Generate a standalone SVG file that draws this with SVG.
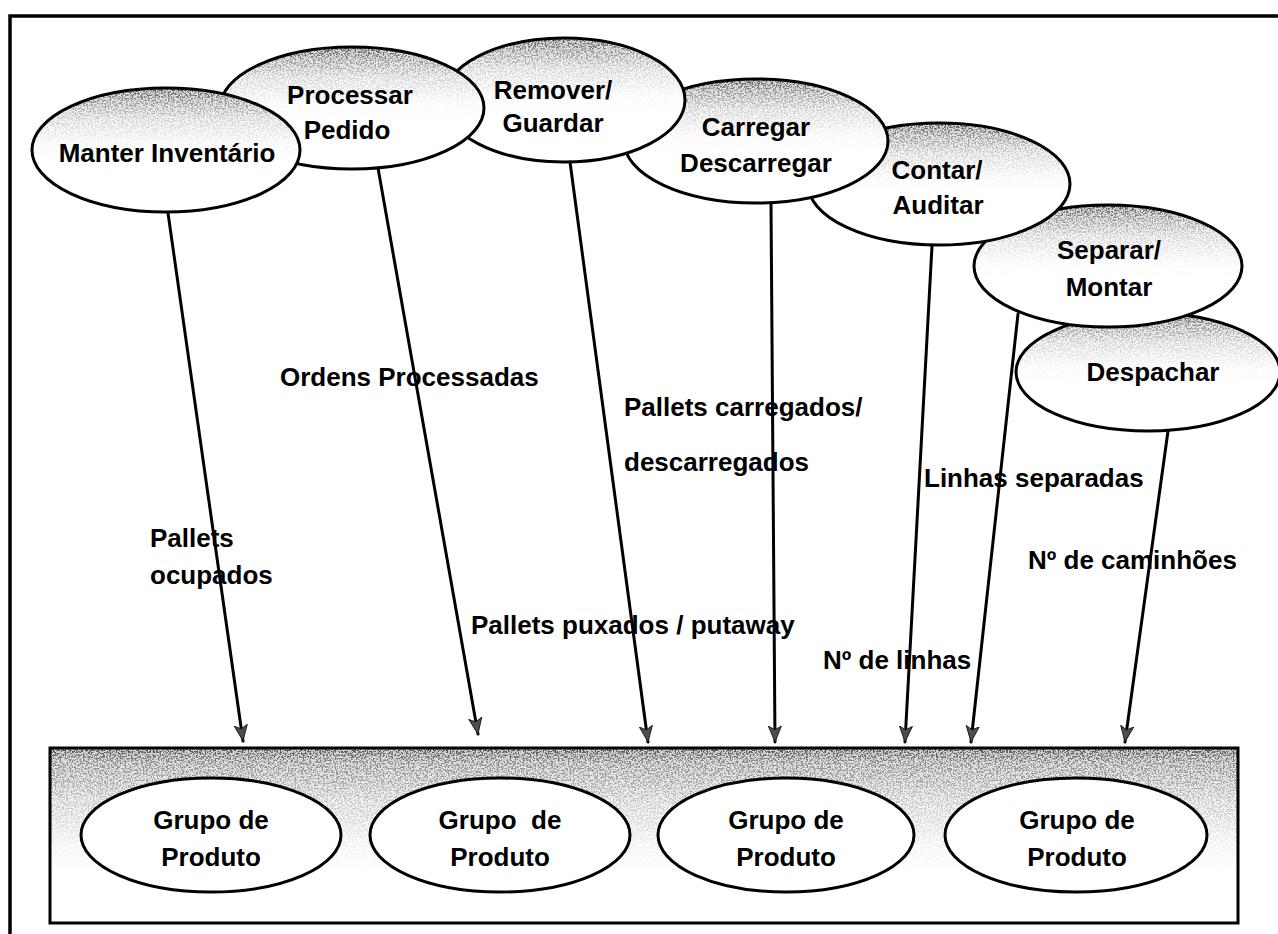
<svg xmlns="http://www.w3.org/2000/svg" width="1278" height="934" viewBox="0 0 1278 934">
  <style>
    .frame { fill: none; stroke: #000; stroke-width: 3.5; }
    .outline { fill: none; stroke: #000; stroke-width: 3; }
    .paper { fill: #fff; stroke: none; }
    .cap { fill: url(#capTone); filter: url(#speckle); }
    .trayTone { fill: url(#trayTone); filter: url(#speckle); }
    text { font-family: "Liberation Sans", Arial, sans-serif; font-weight: bold; fill: #000; }
    .nt { font-size: 26px; text-anchor: middle; }
    .lbl { font-size: 26px; }
    .conn path { fill: none; stroke: #000; stroke-width: 3; stroke-linecap: round; marker-end: url(#arrow); }
  </style>
  <defs>
    <!-- black with falling opacity: the speckle filter turns it into grain -->
    <linearGradient id="capTone" x1="0" y1="0" x2="0" y2="1">
      <stop offset="0" stop-color="#000" stop-opacity="0.85"/>
      <stop offset="0.1" stop-color="#000" stop-opacity="0.5"/>
      <stop offset="0.25" stop-color="#000" stop-opacity="0.2"/>
      <stop offset="0.45" stop-color="#000" stop-opacity="0.04"/>
      <stop offset="0.6" stop-color="#000" stop-opacity="0"/>
    </linearGradient>
    <linearGradient id="trayTone" x1="0" y1="0" x2="0" y2="1">
      <stop offset="0" stop-color="#000" stop-opacity="0.9"/>
      <stop offset="0.08" stop-color="#000" stop-opacity="0.55"/>
      <stop offset="0.3" stop-color="#000" stop-opacity="0.25"/>
      <stop offset="0.55" stop-color="#000" stop-opacity="0.07"/>
      <stop offset="0.72" stop-color="#000" stop-opacity="0"/>
    </linearGradient>
    <filter id="speckle" x="0" y="0" width="1" height="1" color-interpolation-filters="sRGB">
      <feTurbulence type="fractalNoise" baseFrequency="0.6" numOctaves="2" seed="11" result="noise"/>
      <feColorMatrix in="noise" type="matrix" values="0 0 0 0 0.25  0 0 0 0 0.25  0 0 0 0 0.25  7 0 0 0 -3.2" result="dots"/>
      <feComposite in="dots" in2="SourceGraphic" operator="in" result="grainDots"/>
      <feComponentTransfer in="SourceGraphic" result="haze">
        <feFuncA type="linear" slope="0.22"/>
      </feComponentTransfer>
      <feMerge>
        <feMergeNode in="haze"/>
        <feMergeNode in="grainDots"/>
      </feMerge>
    </filter>
    <marker id="arrow" viewBox="0 0 18 16" refX="17" refY="8" markerWidth="17" markerHeight="15" markerUnits="userSpaceOnUse" orient="auto">
      <path d="M0,1 L17,8 L0,15 L4,8 z" fill="#4d4d4d" stroke="#1a1a1a" stroke-width="1"/>
    </marker>
  </defs>

  <rect width="1278" height="934" fill="#fff"/>

  <!-- outer border -->
  <path class="frame" d="M10,940 V16 H1290"/>

  <!-- product tray -->
  <g id="tray">
    <rect class="trayTone" x="50" y="748" width="1188" height="175"/>
    <rect class="outline" x="50" y="748" width="1188" height="175"/>
  </g>

  <g id="grupo1">
    <ellipse class="paper" cx="211" cy="835" rx="130" ry="57"/>
    <ellipse class="outline" cx="211" cy="835" rx="130" ry="57"/>
    <text class="nt" x="211" y="829">Grupo de</text>
    <text class="nt" x="211" y="866">Produto</text>
  </g>
  <g id="grupo2">
    <ellipse class="paper" cx="500" cy="835" rx="130" ry="57"/>
    <ellipse class="outline" cx="500" cy="835" rx="130" ry="57"/>
    <text class="nt" x="500" y="829">Grupo&#160; de</text>
    <text class="nt" x="500" y="866">Produto</text>
  </g>
  <g id="grupo3">
    <ellipse class="paper" cx="786" cy="835" rx="128" ry="57"/>
    <ellipse class="outline" cx="786" cy="835" rx="128" ry="57"/>
    <text class="nt" x="786" y="829">Grupo de</text>
    <text class="nt" x="786" y="866">Produto</text>
  </g>
  <g id="grupo4">
    <ellipse class="paper" cx="1076" cy="835" rx="131" ry="57"/>
    <ellipse class="outline" cx="1076" cy="835" rx="131" ry="57"/>
    <text class="nt" x="1077" y="829">Grupo de</text>
    <text class="nt" x="1077" y="866">Produto</text>
  </g>

  <!-- activity bubbles, back to front -->
  <g id="despachar">
    <ellipse class="paper" cx="1148" cy="372" rx="132" ry="59"/>
    <ellipse class="cap" cx="1148" cy="372" rx="132" ry="59"/>
    <ellipse class="outline" cx="1148" cy="372" rx="132" ry="59"/>
    <text class="nt" x="1153" y="381">Despachar</text>
  </g>
  <g id="separar">
    <ellipse class="paper" cx="1108" cy="266" rx="134" ry="61"/>
    <ellipse class="cap" cx="1108" cy="266" rx="134" ry="61"/>
    <ellipse class="outline" cx="1108" cy="266" rx="134" ry="61"/>
    <text class="nt" x="1109" y="259">Separar/</text>
    <text class="nt" x="1109" y="296">Montar</text>
  </g>
  <g id="contar">
    <ellipse class="paper" cx="939" cy="184" rx="131" ry="61"/>
    <ellipse class="cap" cx="939" cy="184" rx="131" ry="61"/>
    <ellipse class="outline" cx="939" cy="184" rx="131" ry="61"/>
    <text class="nt" x="937" y="179">Contar/</text>
    <text class="nt" x="938" y="214">Auditar</text>
  </g>
  <g id="carregar">
    <ellipse class="paper" cx="756" cy="141" rx="132" ry="62"/>
    <ellipse class="cap" cx="756" cy="141" rx="132" ry="62"/>
    <ellipse class="outline" cx="756" cy="141" rx="132" ry="62"/>
    <text class="nt" x="756" y="136">Carregar</text>
    <text class="nt" x="756" y="172">Descarregar</text>
  </g>
  <g id="remover">
    <ellipse class="paper" cx="564" cy="100" rx="121" ry="62"/>
    <ellipse class="cap" cx="564" cy="100" rx="121" ry="62"/>
    <ellipse class="outline" cx="564" cy="100" rx="121" ry="62"/>
    <text class="nt" x="553" y="99">Remover/</text>
    <text class="nt" x="553" y="132">Guardar</text>
  </g>
  <g id="processar">
    <ellipse class="paper" cx="352" cy="108" rx="132" ry="61"/>
    <ellipse class="cap" cx="352" cy="108" rx="132" ry="61"/>
    <ellipse class="outline" cx="352" cy="108" rx="132" ry="61"/>
    <text class="nt" x="350" y="104">Processar</text>
    <text class="nt" x="347" y="139">Pedido</text>
  </g>
  <g id="manter">
    <ellipse class="paper" cx="166" cy="150" rx="134" ry="62"/>
    <ellipse class="cap" cx="166" cy="150" rx="134" ry="62"/>
    <ellipse class="outline" cx="166" cy="150" rx="134" ry="62"/>
    <text class="nt" x="167" y="162">Manter Inventário</text>
  </g>

  <!-- flow measures -->
  <g id="labels">
    <text class="lbl" x="150" y="547">Pallets</text>
    <text class="lbl" x="150" y="584">ocupados</text>
    <text class="lbl" x="280" y="386">Ordens Processadas</text>
    <text class="lbl" x="471" y="634">Pallets puxados / putaway</text>
    <text class="lbl" x="624" y="416">Pallets carregados/</text>
    <text class="lbl" x="624" y="471">descarregados</text>
    <text class="lbl" x="924" y="487">Linhas separadas</text>
    <text class="lbl" x="1028" y="569">Nº de caminhões</text>
    <text class="lbl" x="823" y="669">Nº de linhas</text>
  </g>

  <g id="connectors" class="conn">
    <path d="M168,213 L243,741"/>
    <path d="M378,168 L478,734"/>
    <path d="M570,162 L648,742"/>
    <path d="M771,203 L775,742"/>
    <path d="M932,246 L905,742"/>
    <path d="M1018,314 L971,742"/>
    <path d="M1168,431 L1125,742"/>
  </g>
</svg>
